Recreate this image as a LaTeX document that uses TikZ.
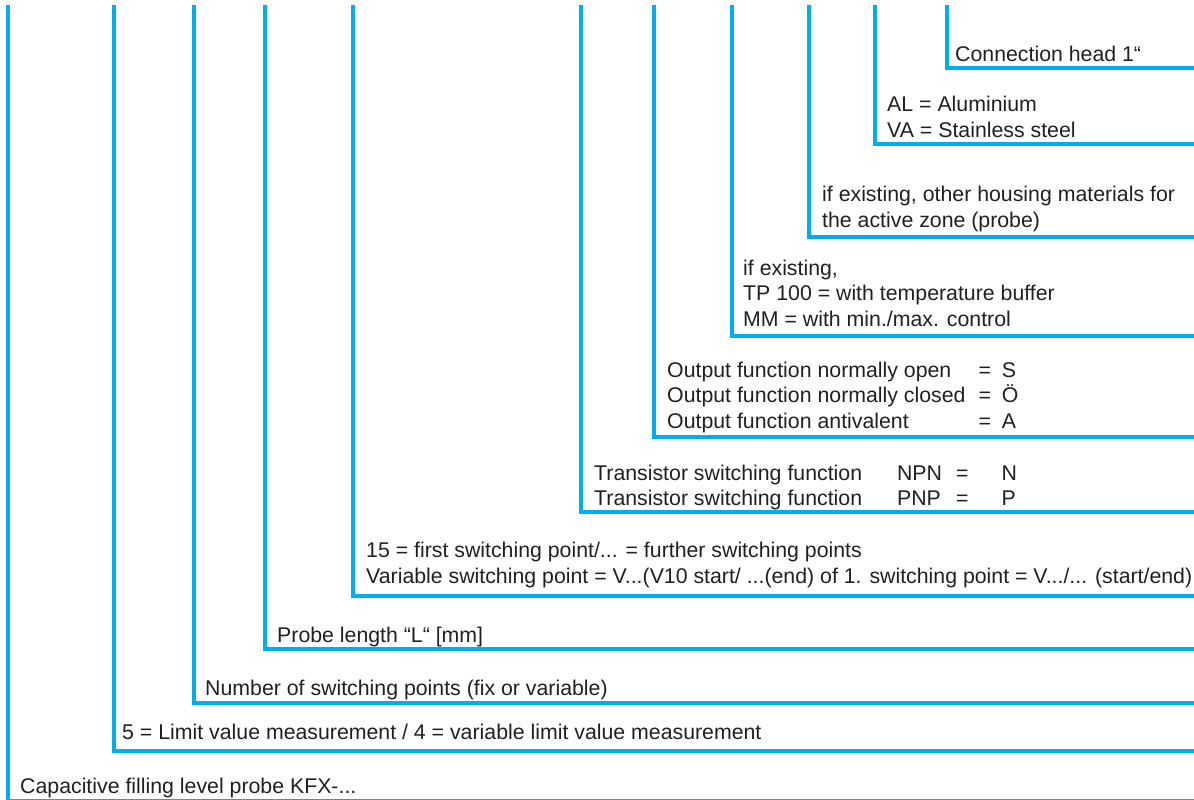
\documentclass[tikz,border=0pt]{standalone}
\usepackage{fontspec}
\setmainfont{Liberation Sans}
\definecolor{codeblue}{HTML}{00AEEF}
\definecolor{codetext}{HTML}{231F20}

\begin{document}
\begin{tikzpicture}[x=1pt, y=-1pt,
  bracket/.style={draw=codeblue, line width=4.5pt, line join=miter},
  keytext/.style={anchor=base west, inner sep=0pt, align=left, text=codetext,
    font=\fontsize{21.3}{25.5}\selectfont}]
  \useasboundingbox (0,0) rectangle (1194,800);
  \clip (0,0) rectangle (1194,800);
  % one bracket per code position: stem x / bar y
  \foreach \n/\x/\y in {cap/8/801, lim/114/751, num/194/703, len/265/649,
      pnt/353/596, trn/581/512, out/654/437, opt/732/336, mat/809/237,
      hsg/875/144, hd/947/68} {
    \coordinate (\n top) at (\x,5);
    \coordinate (\n end) at (1200,\y);
    \draw[bracket] (\n top) |- (\n end);
  }
  % texts above the bars (multi-line ones sit on their last line)
  \node[keytext] (cap text) at (20,793) {Capacitive filling level probe KFX-...};
  \node[keytext] (lim text) at (122,739) {5 = Limit value measurement / 4 = variable limit value measurement};
  \node[keytext] (num text) at (205,695) {Number of switching points (fix or variable)};
  \node[keytext] (len text) at (277,642) {Probe length “L“ [mm]};
  \node[keytext] (pnt text) at (366,583) {15 = first switching point/... = further switching points\\
    Variable switching point = V...(V10 start/ ...(end) of 1. switching point = V.../... (start/end)};
  \node[keytext] (trn text) at (594,480) {%
    \begin{tabular}[t]{@{}l@{\hspace{35pt}}l@{\hspace{14pt}}l@{\hspace{33pt}}l@{}}
      Transistor switching function & NPN & = & N\\
      Transistor switching function & PNP & = & P
    \end{tabular}};
  \node[keytext] (out text) at (667,377) {%
    \begin{tabular}[t]{@{}l@{\hspace{13pt}}l@{\hspace{11pt}}l@{}}
      Output function normally open & = & S\\
      Output function normally closed & = & Ö\\
      Output function antivalent & = & A
    \end{tabular}};
  \node[keytext] (opt text) at (743,326) {if existing,\\
    TP 100 = with temperature buffer\\
    MM = with min./max. control};
  \node[keytext] (mat text) at (822,227) {if existing, other housing materials for\\
    the active zone (probe)};
  \node[keytext] (hsg text) at (887,137) {AL = Aluminium\\VA = Stainless steel};
  \node[keytext] (hd text) at (955,62) {Connection head 1“};
\end{tikzpicture}
\end{document}
